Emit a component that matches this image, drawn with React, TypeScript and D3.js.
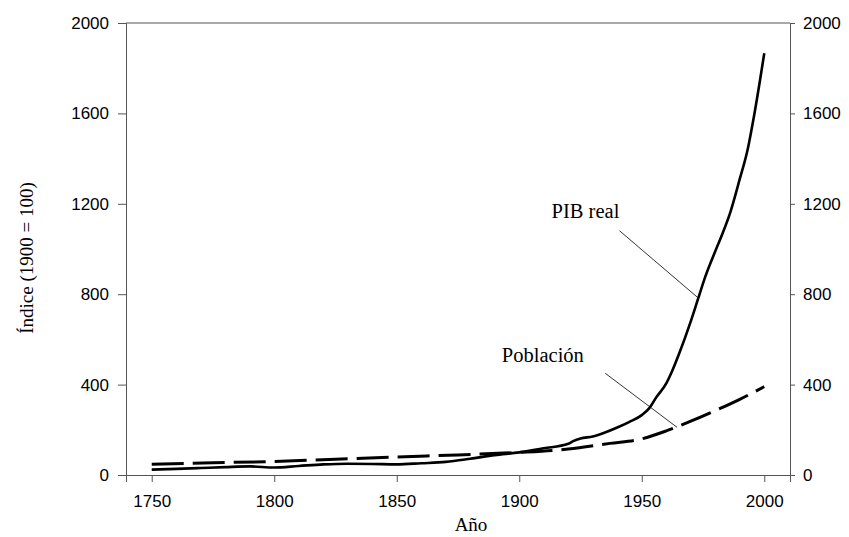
import * as d3 from "d3";
import { useEffect, useRef } from "react";

// indice 1900 = 100
const pibYears = [1750, 1760, 1770, 1780, 1790, 1800, 1810, 1820, 1830, 1840, 1850, 1860, 1870, 1880, 1890, 1900, 1910, 1920, 1922, 1925, 1930, 1935, 1940, 1945, 1950, 1953, 1956, 1960, 1962, 1965, 1970, 1973, 1976, 1980, 1983, 1986, 1990, 1993, 1996, 2000];
const pibReal = [24, 27, 31, 35, 38, 33, 40, 47, 50, 49, 47, 52, 58, 72, 88, 100, 118, 138, 150, 162, 170, 188, 210, 235, 265, 295, 345, 405, 450, 530, 680, 780, 880, 990, 1070, 1158, 1310, 1430, 1600, 1866];

const popYears = [1750, 1775, 1800, 1825, 1850, 1875, 1900, 1920, 1937, 1950, 1960, 1970, 1980, 1990, 2000];
const poblacion = [48, 54, 60, 70, 80, 89, 100, 115, 140, 160, 195, 238, 285, 335, 391];

const xTicks = [1750, 1800, 1850, 1900, 1950, 2000];
const yTicks = [0, 400, 800, 1200, 1600, 2000];

const W = 849;
const H = 537;
const sans = "'Liberation Sans', Arial, sans-serif";
const serif = "'Liberation Serif', 'Times New Roman', serif";

export default function App() {
  const ref = useRef<SVGSVGElement>(null);

  useEffect(() => {
    const svg = d3.select(ref.current);
    svg.selectAll("*").remove();

    const x = d3.scaleLinear().domain([1739.5, 2010.5]).range([126, 790]);
    const y = d3.scaleLinear().domain([0, 2000]).range([475, 23]);

    // top border
    svg
      .append("line")
      .attr("x1", 126)
      .attr("x2", 790)
      .attr("y1", 23)
      .attr("y2", 23)
      .attr("stroke", "#555");

    const styleAxis = (g: any) => {
      g.selectAll("path").attr("stroke", "#555");
      g.selectAll("line").attr("stroke", "#555");
      g.selectAll("text")
        .attr("fill", "#000")
        .style("font-family", sans)
        .style("font-size", "17px");
    };

    svg
      .append("g")
      .attr("transform", "translate(0,475)")
      .call(
        d3
          .axisBottom(x)
          .tickValues(xTicks)
          .tickFormat(d3.format("d"))
          .tickSizeOuter(0)
          .tickSize(7)
          .tickPadding(13)
      )
      .call(styleAxis);

    svg
      .append("g")
      .attr("transform", "translate(126,0)")
      .call(
        d3
          .axisLeft(y)
          .tickValues(yTicks)
          .tickFormat(d3.format("d"))
          .tickSizeOuter(0)
          .tickSize(8)
          .tickPadding(9)
      )
      .call(styleAxis);

    svg
      .append("g")
      .attr("transform", "translate(790,0)")
      .call(
        d3
          .axisRight(y)
          .tickValues(yTicks)
          .tickFormat(d3.format("d"))
          .tickSizeOuter(0)
          .tickSize(5)
          .tickPadding(8)
      )
      .call(styleAxis);

    const line = d3
      .line<[number, number]>()
      .x(d => x(d[0]))
      .y(d => y(d[1]))
      .curve(d3.curveMonotoneX);

    svg
      .append("path")
      .datum(popYears.map((yr, i) => [yr, poblacion[i]] as [number, number]))
      .attr("d", line)
      .attr("fill", "none")
      .attr("stroke", "#000")
      .attr("stroke-width", 3)
      .attr("stroke-dasharray", "32,9");

    svg
      .append("path")
      .datum(pibYears.map((yr, i) => [yr, pibReal[i]] as [number, number]))
      .attr("d", line)
      .attr("fill", "none")
      .attr("stroke", "#000")
      .attr("stroke-width", 2.6);

    // annotations
    svg
      .append("line")
      .attr("x1", x(1940.9))
      .attr("y1", y(1081))
      .attr("x2", x(1973.2))
      .attr("y2", y(782))
      .attr("stroke", "#000")
      .attr("stroke-width", 0.8);
    svg
      .append("text")
      .attr("x", x(1913.2))
      .attr("y", y(1137))
      .style("font-family", serif)
      .style("font-size", "20.5px")
      .text("PIB real");

    svg
      .append("line")
      .attr("x1", x(1935.1))
      .attr("y1", y(450))
      .attr("x2", x(1964.4))
      .attr("y2", y(211))
      .attr("stroke", "#000")
      .attr("stroke-width", 0.8);
    svg
      .append("text")
      .attr("x", x(1892.9))
      .attr("y", y(501))
      .style("font-family", serif)
      .style("font-size", "20.5px")
      .text("Población");

    // axis titles
    svg
      .append("text")
      .attr("x", 471)
      .attr("y", 531)
      .attr("text-anchor", "middle")
      .style("font-family", serif)
      .style("font-size", "19px")
      .text("Año");

    svg
      .append("text")
      .attr("transform", "translate(33,258) rotate(-90)")
      .attr("text-anchor", "middle")
      .style("font-family", serif)
      .style("font-size", "19px")
      .text("Índice (1900 = 100)");
  }, []);

  return (
    <svg
      ref={ref}
      width={W}
      height={H}
      style={{ position: "absolute", left: 0, top: 0, background: "#fff" }}
    />
  );
}
